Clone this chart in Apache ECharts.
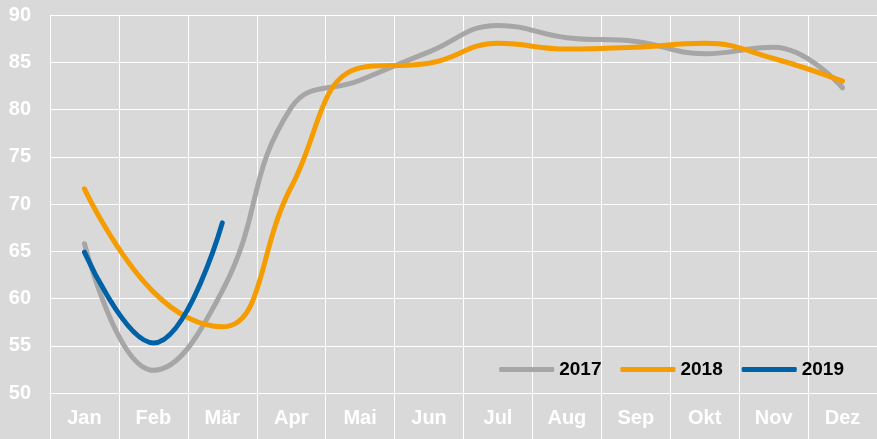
<!DOCTYPE html>
<html><head><meta charset="utf-8">
<script src="https://cdn.jsdelivr.net/npm/echarts@6/dist/echarts.min.js"></script>
<style>html,body{margin:0;padding:0;background:#d9d9d9;}#c{width:877px;height:439px;}</style>
</head><body><div id="c"></div>
<script>
const categories = ['Jan','Feb','Mär','Apr','Mai','Jun','Jul','Aug','Sep','Okt','Nov','Dez'];
const s2017 = [65.8, 52.4, 60.8, 80.2, 83.1, 86.1, 88.9, 87.6, 87.2, 85.9, 86.6, 82.3];
const s2018 = [71.6, 60.7, 57.0, 71.8, 84.4, 84.9, 87.0, 86.4, 86.6, 87.0, 85.4, 83.0];
const s2019 = [64.9, 55.3, 68.0];
const yTicks = {min: 50, max: 90, interval: 5};
const font = 'Liberation Sans, Arial, sans-serif';
const chart = echarts.init(document.getElementById('c'), null, {renderer:'canvas'});
function line(name, data, color){
  return {name, type:'line', data, smooth:0.45, symbol:'none',
    lineStyle:{color, width:5, cap:'round'}, itemStyle:{color}};
}
chart.setOption({
  backgroundColor:'#d9d9d9',
  animation:false,
  grid:{left:50, right:0, top:15, bottom:46},
  legend:{
    right:28, bottom:55, orient:'horizontal',
    icon:'roundRect', itemWidth:55, itemHeight:5, itemGap:19,
    textStyle:{color:'#000', fontWeight:'bold', fontSize:19, fontFamily:font},
    data:['2017','2018','2019']
  },
  xAxis:{
    type:'category', data:categories, boundaryGap:true,
    axisLine:{show:true, lineStyle:{color:'#ffffff', width:1}},
    axisTick:{show:true, length:46, interval:0, lineStyle:{color:'#ffffff', width:1}},
    splitLine:{show:true, interval:0, lineStyle:{color:'#ffffff', width:1}},
    axisLabel:{color:'#ffffff', fontWeight:'bold', fontSize:20, fontFamily:font, margin:15, interval:0}
  },
  yAxis:{
    type:'value', min:yTicks.min, max:yTicks.max, interval:yTicks.interval,
    axisLine:{show:true, lineStyle:{color:'#ffffff', width:1}},
    axisTick:{show:false},
    splitLine:{show:true, lineStyle:{color:'#ffffff', width:1}},
    axisLabel:{color:'#ffffff', fontWeight:'bold', fontSize:20, fontFamily:font, margin:19}
  },
  series:[
    line('2017', s2017, '#a6a6a6'),
    line('2018', s2018, '#f59c00'),
    line('2019', s2019, '#0062a6')
  ]
});
</script></body></html>
